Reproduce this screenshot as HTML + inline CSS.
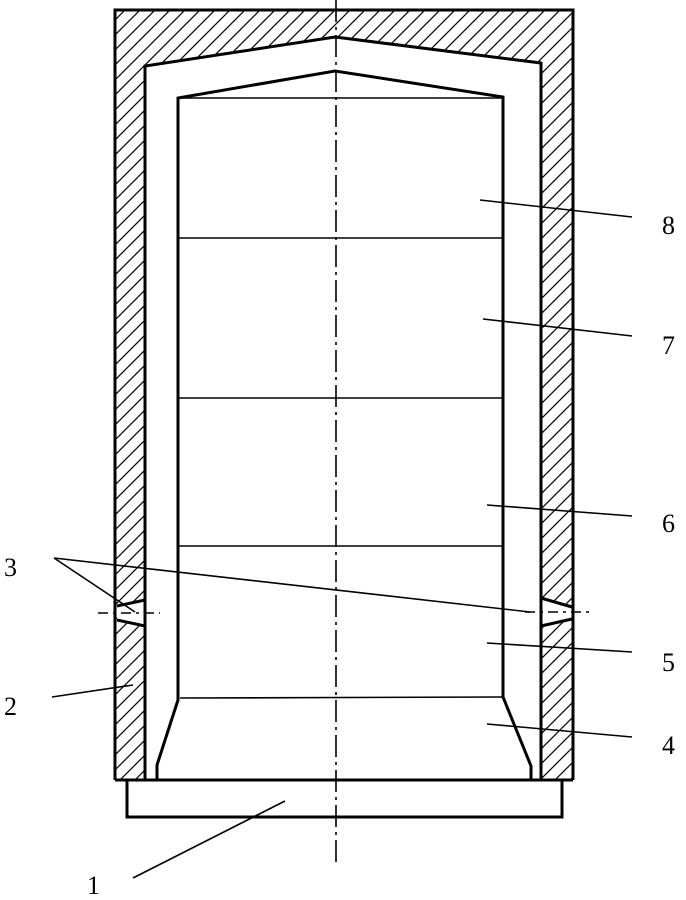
<!DOCTYPE html>
<html><head><meta charset="utf-8"><style>
html,body{margin:0;padding:0;background:#fff;}
svg{display:block;}
text{font-family:"Liberation Serif",serif;font-size:26px;fill:#000;}
</style></head><body>
<svg width="686" height="900" viewBox="0 0 686 900" xmlns="http://www.w3.org/2000/svg">
<defs>
<pattern id="h" patternUnits="userSpaceOnUse" width="15" height="15">
<line x1="0" y1="15" x2="15" y2="0" stroke="#000" stroke-width="1.2"/>
<line x1="-2" y1="2" x2="2" y2="-2" stroke="#000" stroke-width="1.2"/>
<line x1="13" y1="17" x2="17" y2="13" stroke="#000" stroke-width="1.2"/>
</pattern>
</defs>
<path d="M115,10 L573,10 L573,780 L541,780 L541,626 L572,619 L572,607 L541,598 L541,63 L335,37 L145,66 L145,600 L117,606 L117,620 L145,626 L145,780 L115,780 Z" fill="url(#h)" stroke="none"/>
<g fill="none" stroke="#000" stroke-width="3">
<polyline points="115,780 115,10 573,10 573,780"/>
<polyline points="145,780 145,66 335,37 541,63 541,780"/>
<line x1="115" y1="780" x2="573" y2="780"/>
<polyline points="157,780 157,765 178,700 178,98 335,71 503,97 503,697 531,766 531,780"/>
<polyline points="127,780 127,817 562,817 562,780"/>
<line x1="117" y1="606" x2="145" y2="600"/>
<line x1="117" y1="620" x2="145" y2="626"/>
<line x1="541" y1="598" x2="572" y2="607"/>
<line x1="541" y1="626" x2="572" y2="619"/>
</g>
<g stroke="#000" stroke-width="1.6" fill="none">
<line x1="178" y1="98" x2="503" y2="98"/>
<line x1="178" y1="238" x2="503" y2="238"/>
<line x1="178" y1="398" x2="503" y2="398"/>
<line x1="178" y1="546" x2="503" y2="546"/>
<line x1="180" y1="698" x2="503" y2="697"/>
<line x1="480" y1="200" x2="632" y2="217"/>
<line x1="483" y1="319" x2="632" y2="336"/>
<line x1="487" y1="505" x2="632" y2="516"/>
<line x1="487" y1="643" x2="632" y2="652"/>
<line x1="487" y1="724" x2="632" y2="737"/>
<line x1="52" y1="697" x2="133" y2="685"/>
<line x1="133" y1="878" x2="285" y2="801"/>
<line x1="54" y1="558" x2="135" y2="612"/>
<line x1="54" y1="558" x2="530" y2="612"/>
<line x1="336" y1="0" x2="336" y2="862" stroke-dasharray="22,5,3,5"/>
<line x1="98" y1="613" x2="160" y2="613" stroke-dasharray="10,5,3,5"/>
<line x1="525" y1="612" x2="590" y2="612" stroke-dasharray="10,5,3,5"/>
</g>
<text x="662" y="234">8</text>
<text x="662" y="354">7</text>
<text x="662" y="532">6</text>
<text x="662" y="671">5</text>
<text x="662" y="754">4</text>
<text x="4" y="576">3</text>
<text x="4" y="715">2</text>
<text x="87" y="894">1</text>
</svg>
</body></html>
